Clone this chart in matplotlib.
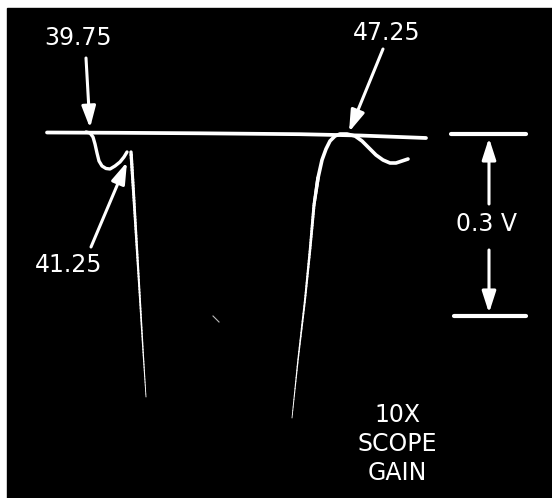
import matplotlib.pyplot as plt
import numpy as np
from matplotlib.collections import LineCollection
from matplotlib.patches import Rectangle

# trace (screen pixels, y grows downward)
baseline_x = [47, 120, 200, 300, 360, 426]
baseline_y = [132.5, 132.8, 133.3, 134.2, 135.5, 138]

dip_x = [86, 90, 93, 95, 97, 99, 102, 106, 110, 115, 120, 124, 127]
dip_y = [132, 133, 137, 144, 153, 161, 166, 168.5, 169, 166, 162, 157, 152]

spike1_x = [131, 134, 137, 140, 143, 146]
spike1_y = [152, 200, 250, 300, 350, 397]

spike2_x = [292, 298, 305, 310, 314, 318, 322, 326, 330, 335, 340, 347, 355, 362, 369, 376, 383, 390, 396, 402, 408]
spike2_y = [418, 360, 300, 250, 205, 178, 160, 149, 141, 136, 134, 134, 136, 141, 148, 155, 160, 163, 163, 161, 159]

labels = ['39.75', '47.25', '41.25']
label_pos = [(78, 38), (387, 33), (69, 265)]
arrow_tail = [(86, 58), (383, 49), (91, 247)]
arrow_tip = [(90, 128), (349, 132), (127, 162)]

scale_text = '0.3 V'
gain_text = ['10X', 'SCOPE', 'GAIN']

fig = plt.figure(figsize=(5.52, 4.98), dpi=100)
ax = fig.add_axes([0, 0, 1, 1])
ax.set_xlim(0, 552)
ax.set_ylim(498, 0)
ax.axis('off')
ax.add_patch(Rectangle((6.5, 8), 546, 490, color='black', zorder=0))

def tapered(x, y, w0, w1):
    # thin out the fast edges like a real scope trace
    x = np.interp(np.linspace(0, len(x) - 1, 80), np.arange(len(x)), x)
    y = np.interp(np.linspace(0, len(y) - 1, 80), np.arange(len(y)), y)
    pts = np.array([x, y]).T.reshape(-1, 1, 2)
    segs = np.concatenate([pts[:-1], pts[1:]], axis=1)
    lc = LineCollection(segs, linewidths=np.linspace(w0, w1, len(segs)),
                        colors='white', capstyle='round')
    ax.add_collection(lc)

ax.plot(baseline_x, baseline_y, color='white', lw=2.7, solid_capstyle='round')
ax.plot(dip_x, dip_y, color='white', lw=2.4, solid_capstyle='round')
tapered(spike1_x, spike1_y, 2.4, 0.6)
tapered(spike2_x[:6], spike2_y[:6], 0.6, 2.6)
ax.plot(spike2_x[5:], spike2_y[5:], color='white', lw=2.6, solid_capstyle='round')

# little speck on the screen
ax.plot([213, 219], [316, 322], color='#bbbbbb', lw=0.8)

font = dict(color='white', fontsize=17, family='DejaVu Sans', ha='center', va='center')
head = '-|>,head_length=1.3,head_width=0.42'
for lab, pos, tail, tip in zip(labels, label_pos, arrow_tail, arrow_tip):
    ax.text(pos[0], pos[1], lab, **font)
    ax.annotate('', xy=tip, xytext=tail,
                arrowprops=dict(arrowstyle=head, color='white', lw=2.2,
                                shrinkA=0, shrinkB=0))

# 0.3 V scale marker
ax.plot([451, 526], [134, 134], color='white', lw=3, solid_capstyle='round')
ax.plot([454, 526], [316, 316], color='white', lw=3, solid_capstyle='round')
ax.annotate('', xy=(489, 138), xytext=(489, 204),
            arrowprops=dict(arrowstyle=head, color='white', lw=2.2, shrinkA=0, shrinkB=0))
ax.annotate('', xy=(489, 313), xytext=(489, 250),
            arrowprops=dict(arrowstyle=head, color='white', lw=2.2, shrinkA=0, shrinkB=0))
ax.text(486, 224, scale_text, **font)

for i, t in enumerate(gain_text):
    ax.text(397, 415 + 29 * i, t, **font)

fig.savefig('out.png', dpi=100, facecolor='white')
